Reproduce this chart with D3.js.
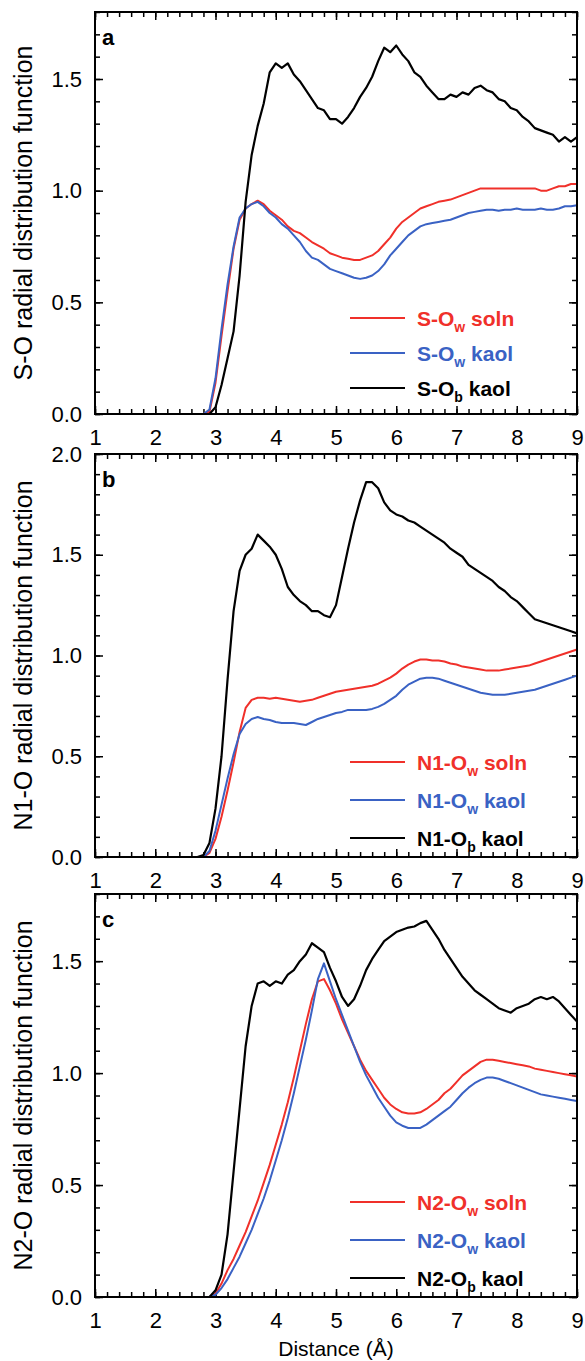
<!DOCTYPE html>
<html>
<head>
    <title>Radial distribution functions</title>
    <script src="https://cdnjs.cloudflare.com/ajax/libs/d3/7.8.5/d3.min.js"></script>
    <style>
        body { margin: 0; background: #fff; }
        svg { display: block; font-family: Arial, "Liberation Sans", sans-serif; }
    </style>
</head>

<body>
    <div id="chart"></div>

    <script>
        // distance grid (Å), shared by every curve
        const distance = [1.0, 2.7, 2.8, 2.9,
            3.0, 3.1, 3.2, 3.3, 3.4, 3.5, 3.6, 3.7, 3.8, 3.9,
            4.0, 4.1, 4.2, 4.3, 4.4, 4.5, 4.6, 4.7, 4.8, 4.9,
            5.0, 5.1, 5.2, 5.3, 5.4, 5.5, 5.6, 5.7, 5.8, 5.9,
            6.0, 6.1, 6.2, 6.3, 6.4, 6.5, 6.6, 6.7, 6.8, 6.9,
            7.0, 7.1, 7.2, 7.3, 7.4, 7.5, 7.6, 7.7, 7.8, 7.9,
            8.0, 8.1, 8.2, 8.3, 8.4, 8.5, 8.6, 8.7, 8.8, 8.9,
            9.0]

        // panel a : S-O
        const soOwSoln = [0, 0, 0, 0.01,
            0.14, 0.35, 0.55, 0.74, 0.87, 0.92, 0.94, 0.955, 0.94, 0.91,
            0.89, 0.87, 0.84, 0.82, 0.81, 0.79, 0.77, 0.755, 0.74, 0.72,
            0.71, 0.70, 0.695, 0.69, 0.69, 0.70, 0.71, 0.73, 0.76, 0.79,
            0.83, 0.86, 0.88, 0.90, 0.92, 0.93, 0.94, 0.95, 0.955, 0.96,
            0.97, 0.98, 0.99, 1.00, 1.01, 1.01, 1.01, 1.01, 1.01, 1.01,
            1.01, 1.01, 1.01, 1.01, 1.00, 1.00, 1.01, 1.02, 1.02, 1.03,
            1.03]
        const soOwKaol = [0, 0, 0, 0.02,
            0.16, 0.38, 0.58, 0.75, 0.88, 0.92, 0.94, 0.95, 0.93, 0.90,
            0.88, 0.85, 0.83, 0.80, 0.77, 0.73, 0.70, 0.69, 0.67, 0.65,
            0.64, 0.63, 0.62, 0.61, 0.605, 0.61, 0.62, 0.64, 0.67, 0.71,
            0.74, 0.77, 0.80, 0.82, 0.84, 0.85, 0.855, 0.86, 0.865, 0.87,
            0.88, 0.89, 0.90, 0.905, 0.91, 0.915, 0.915, 0.91, 0.915, 0.915,
            0.92, 0.915, 0.915, 0.915, 0.92, 0.915, 0.915, 0.92, 0.93, 0.93,
            0.935]
        const soObKaol = [0, 0, 0, 0,
            0.03, 0.13, 0.25, 0.37, 0.62, 0.95, 1.16, 1.29, 1.39, 1.53,
            1.57, 1.55, 1.57, 1.52, 1.49, 1.45, 1.41, 1.37, 1.36, 1.32,
            1.32, 1.30, 1.33, 1.37, 1.42, 1.46, 1.51, 1.58, 1.64, 1.62,
            1.65, 1.61, 1.58, 1.53, 1.51, 1.47, 1.44, 1.41, 1.41, 1.43,
            1.42, 1.44, 1.43, 1.46, 1.47, 1.45, 1.44, 1.41, 1.40, 1.37,
            1.36, 1.33, 1.31, 1.28, 1.27, 1.26, 1.25, 1.22, 1.24, 1.22,
            1.24]

        // panel b : N1-O
        const n1OwSoln = [0, 0, 0, 0.02,
            0.09, 0.20, 0.33, 0.47, 0.62, 0.74, 0.78, 0.79, 0.79, 0.785,
            0.79, 0.785, 0.78, 0.775, 0.77, 0.775, 0.78, 0.79, 0.80, 0.81,
            0.82, 0.825, 0.83, 0.835, 0.84, 0.845, 0.85, 0.86, 0.875, 0.89,
            0.91, 0.935, 0.955, 0.97, 0.98, 0.98, 0.975, 0.975, 0.97, 0.96,
            0.955, 0.945, 0.94, 0.935, 0.93, 0.925, 0.925, 0.925, 0.93, 0.935,
            0.94, 0.945, 0.95, 0.96, 0.97, 0.98, 0.99, 1.00, 1.01, 1.02,
            1.03]
        const n1OwKaol = [0, 0, 0, 0.03,
            0.13, 0.26, 0.39, 0.51, 0.61, 0.66, 0.685, 0.695, 0.685, 0.68,
            0.67, 0.665, 0.665, 0.665, 0.66, 0.655, 0.67, 0.685, 0.695, 0.705,
            0.715, 0.72, 0.73, 0.73, 0.73, 0.73, 0.735, 0.745, 0.76, 0.78,
            0.80, 0.83, 0.855, 0.87, 0.885, 0.89, 0.89, 0.885, 0.875, 0.865,
            0.855, 0.845, 0.835, 0.825, 0.815, 0.81, 0.805, 0.805, 0.805, 0.81,
            0.815, 0.82, 0.825, 0.83, 0.84, 0.85, 0.86, 0.87, 0.88, 0.89,
            0.90]
        const n1ObKaol = [0, 0, 0.01, 0.07,
            0.24, 0.50, 0.88, 1.22, 1.42, 1.50, 1.53, 1.60, 1.57, 1.54,
            1.50, 1.43, 1.34, 1.30, 1.27, 1.25, 1.22, 1.22, 1.20, 1.19,
            1.25, 1.39, 1.53, 1.66, 1.77, 1.86, 1.86, 1.83, 1.76, 1.72,
            1.70, 1.69, 1.67, 1.66, 1.64, 1.62, 1.60, 1.58, 1.56, 1.53,
            1.51, 1.49, 1.45, 1.43, 1.41, 1.39, 1.37, 1.34, 1.32, 1.29,
            1.27, 1.24, 1.21, 1.18, 1.17, 1.16, 1.15, 1.14, 1.13, 1.12,
            1.11]

        // panel c : N2-O
        const n2OwSoln = [0, 0, 0, 0,
            0.015, 0.06, 0.12, 0.17, 0.23, 0.29, 0.36, 0.43, 0.51, 0.59,
            0.68, 0.77, 0.87, 0.98, 1.10, 1.22, 1.33, 1.41, 1.42, 1.37,
            1.31, 1.24, 1.18, 1.12, 1.06, 1.01, 0.97, 0.93, 0.89, 0.86,
            0.84, 0.825, 0.82, 0.82, 0.825, 0.84, 0.86, 0.88, 0.91, 0.93,
            0.96, 0.99, 1.01, 1.03, 1.05, 1.06, 1.06, 1.055, 1.05, 1.045,
            1.04, 1.035, 1.03, 1.02, 1.015, 1.01, 1.005, 1.00, 0.995, 0.99,
            0.985]
        const n2OwKaol = [0, 0, 0, 0,
            0.01, 0.04, 0.08, 0.13, 0.18, 0.24, 0.30, 0.37, 0.44, 0.52,
            0.61, 0.70, 0.80, 0.91, 1.03, 1.15, 1.28, 1.42, 1.49, 1.41,
            1.33, 1.26, 1.19, 1.12, 1.05, 0.99, 0.94, 0.89, 0.85, 0.81,
            0.78, 0.765, 0.755, 0.755, 0.755, 0.77, 0.79, 0.81, 0.83, 0.85,
            0.88, 0.91, 0.935, 0.955, 0.97, 0.98, 0.98, 0.975, 0.965, 0.955,
            0.945, 0.935, 0.925, 0.915, 0.905, 0.90, 0.895, 0.89, 0.885, 0.88,
            0.875]
        const n2ObKaol = [0, 0, 0, 0,
            0.03, 0.10, 0.28, 0.56, 0.84, 1.12, 1.30, 1.40, 1.41, 1.39,
            1.41, 1.40, 1.44, 1.46, 1.50, 1.53, 1.58, 1.56, 1.54, 1.47,
            1.41, 1.34, 1.30, 1.33, 1.39, 1.46, 1.51, 1.55, 1.59, 1.61,
            1.63, 1.64, 1.65, 1.655, 1.67, 1.68, 1.64, 1.60, 1.55, 1.51,
            1.47, 1.43, 1.40, 1.37, 1.35, 1.33, 1.31, 1.29, 1.28, 1.27,
            1.29, 1.30, 1.31, 1.33, 1.34, 1.33, 1.34, 1.32, 1.29, 1.26,
            1.23]

        // tick labels
        const xTicks = [1, 2, 3, 4, 5, 6, 7, 8, 9]
        const yTicksShort = [0, 0.5, 1.0, 1.5]
        const yTicksTall = [0, 0.5, 1.0, 1.5, 2.0]

        // legend pieces: label = prefix + "-O" + sub + tail
        const legendSubs = ["w", "w", "b"]
        const legendTails = [" soln", " kaol", " kaol"]

        const colors = ["#f0302a", "#3a62c4", "#000000"]

        const W = 585, H = 1361
        const xLeft = 95, xRight = 577
        const FONT = 'Arial, "Liberation Sans", sans-serif'

        const panels = [
            { letter: "a", prefix: "S", yMax: 1.8, yTicks: yTicksShort, series: [soOwSoln, soOwKaol, soObKaol],
              top: 12, bottom: 414, legTop: 318, legGap: 35 },
            { letter: "b", prefix: "N1", yMax: 2.0, yTicks: yTicksTall, series: [n1OwSoln, n1OwKaol, n1ObKaol],
              top: 454, bottom: 857, legTop: 762, legGap: 38 },
            { letter: "c", prefix: "N2", yMax: 1.8, yTicks: yTicksShort, series: [n2OwSoln, n2OwKaol, n2ObKaol],
              top: 894, bottom: 1297, legTop: 1202, legGap: 38 }
        ]

        let svg = d3.select("#chart").append("svg")
            .attr("width", W).attr("height", H)

        let x = d3.scaleLinear().domain([1, 9]).range([xLeft, xRight])

        function styleAxis(sel) {
            sel.select(".domain").remove()
            sel.selectAll(".tick line").attr("stroke", "#000").attr("stroke-width", 1.5)
            sel.selectAll(".tick text").attr("fill", "#000").style("font-size", "22px").style("font-family", FONT)
        }

        function drawPanel(p) {
            let y = d3.scaleLinear().domain([0, p.yMax]).range([p.bottom, p.top])
            let g = svg.append("g")
            let yMinor = y.ticks(Math.round(p.yMax * 10))
            let xMinor = x.ticks(40)

            // bottom axis
            g.append("g").attr("transform", `translate(0,${p.bottom})`)
                .call(d3.axisBottom(x).tickValues(xMinor).tickSize(-5).tickFormat("")).call(styleAxis)
            g.append("g").attr("transform", `translate(0,${p.bottom})`)
                .call(d3.axisBottom(x).tickValues(xTicks).tickSize(-8).tickPadding(15).tickFormat(d3.format("d"))).call(styleAxis)
            // top mirror
            g.append("g").attr("transform", `translate(0,${p.top})`)
                .call(d3.axisTop(x).tickValues(xMinor).tickSize(-5).tickFormat("")).call(styleAxis)
            g.append("g").attr("transform", `translate(0,${p.top})`)
                .call(d3.axisTop(x).tickValues(xTicks).tickSize(-8).tickFormat("")).call(styleAxis)
            // left axis
            g.append("g").attr("transform", `translate(${xLeft},0)`)
                .call(d3.axisLeft(y).tickValues(yMinor).tickSize(-5).tickFormat("")).call(styleAxis)
            g.append("g").attr("transform", `translate(${xLeft},0)`)
                .call(d3.axisLeft(y).tickValues(p.yTicks).tickSize(-8).tickPadding(13).tickFormat(d3.format(".1f"))).call(styleAxis)
            // right mirror
            g.append("g").attr("transform", `translate(${xRight},0)`)
                .call(d3.axisRight(y).tickValues(yMinor).tickSize(-5).tickFormat("")).call(styleAxis)
            g.append("g").attr("transform", `translate(${xRight},0)`)
                .call(d3.axisRight(y).tickValues(p.yTicks).tickSize(-8).tickFormat("")).call(styleAxis)

            let line = d3.line().x((d, i) => x(distance[i])).y(d => y(d))
            p.series.forEach(function (s, k) {
                g.append("path").datum(s).attr("d", line)
                    .attr("fill", "none").attr("stroke", colors[k])
                    .attr("stroke-width", k === 2 ? 2.2 : 2).attr("stroke-linejoin", "round")
            })

            g.append("rect").attr("x", xLeft).attr("y", p.top)
                .attr("width", xRight - xLeft).attr("height", p.bottom - p.top)
                .attr("fill", "none").attr("stroke", "#000").attr("stroke-width", 2)

            g.append("text").attr("x", 102).attr("y", p.top + 33)
                .style("font-size", "22px").style("font-weight", "bold").text(p.letter)

            g.append("text")
                .attr("transform", `translate(32,${(p.top + p.bottom) / 2}) rotate(-90)`)
                .style("text-anchor", "middle").style("font-size", "25px")
                .text(p.prefix + "-O radial distribution function")

            // legend
            legendSubs.forEach(function (sub, k) {
                let ly = p.legTop + k * p.legGap
                g.append("line").attr("x1", 350).attr("x2", 405).attr("y1", ly).attr("y2", ly)
                    .attr("stroke", colors[k]).attr("stroke-width", 2)
                let t = g.append("text").attr("x", 417).attr("y", ly + 7.5)
                    .attr("fill", colors[k]).style("font-size", "21px").style("font-weight", "bold")
                t.append("tspan").text(p.prefix + "-O")
                t.append("tspan").attr("dy", 6).style("font-size", "14px").text(sub)
                t.append("tspan").attr("dy", -6).text(legendTails[k])
            })
        }

        panels.forEach(drawPanel)

        svg.append("text").attr("x", 336).attr("y", 1356)
            .style("text-anchor", "middle").style("font-size", "21px")
            .text("Distance (Å)")
    </script>
</body>

</html>
